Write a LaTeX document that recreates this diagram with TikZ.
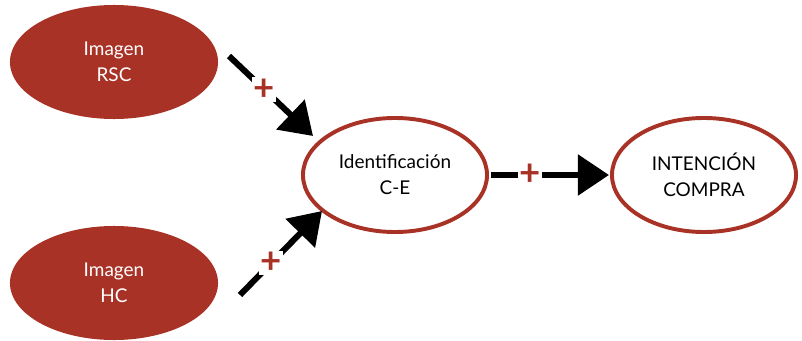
\documentclass[tikz,border=0pt]{standalone}
\usepackage{fontspec}
\setmainfont{Lato}
\usetikzlibrary{arrows.meta,shapes.geometric}
\definecolor{brick}{RGB}{169,50,38}
\begin{document}
\begin{tikzpicture}[x=0.025cm, y=-0.025cm,
	factor/.style={ellipse, fill=brick, text=white, minimum width=5.2cm, minimum height=2.85cm, align=center, font=\fontsize{13.5}{18.5}\selectfont},
	outcome/.style={ellipse, draw=brick, line width=2.8pt, fill=white, minimum width=4.6cm, minimum height=2.85cm, align=center, font=\fontsize{13.5}{18.5}\selectfont},
	effect/.style={line width=4.3pt, -{Triangle[length=0.78cm, width=1cm]}},
	plus/.style={fill=white, text=brick, inner sep=1pt, font=\fontsize{26}{26}\selectfont\bfseries}]
	\useasboundingbox (0,0) rectangle (802,341);
	\node [factor] (rsc) at (114,62) {Imagen\\RSC};
	\node [factor] (hc) at (114,283) {Imagen\\HC};
	\node [outcome] (ident) at (395,175) {Identificación\\C-E};
	\node [outcome] (compra) at (704,175) {INTENCIÓN\\COMPRA};
	% free ends of the arrows
	\coordinate (rscout) at (229,56);
	\coordinate (identin1) at (313,136);
	\coordinate (hcout) at (240,295);
	\coordinate (identin2) at (322,211);
	\coordinate (identout) at (491,175);
	\coordinate (comprain) at (609,175);
	\draw [effect] (rscout) -- (identin1) node [plus, pos=0.42] {+};
	\draw [effect] (hcout) -- (identin2) node [plus, pos=0.38] {+};
	\draw [effect] (identout) -- (comprain) node [plus, pos=0.33] {+};
\end{tikzpicture}
\end{document}
